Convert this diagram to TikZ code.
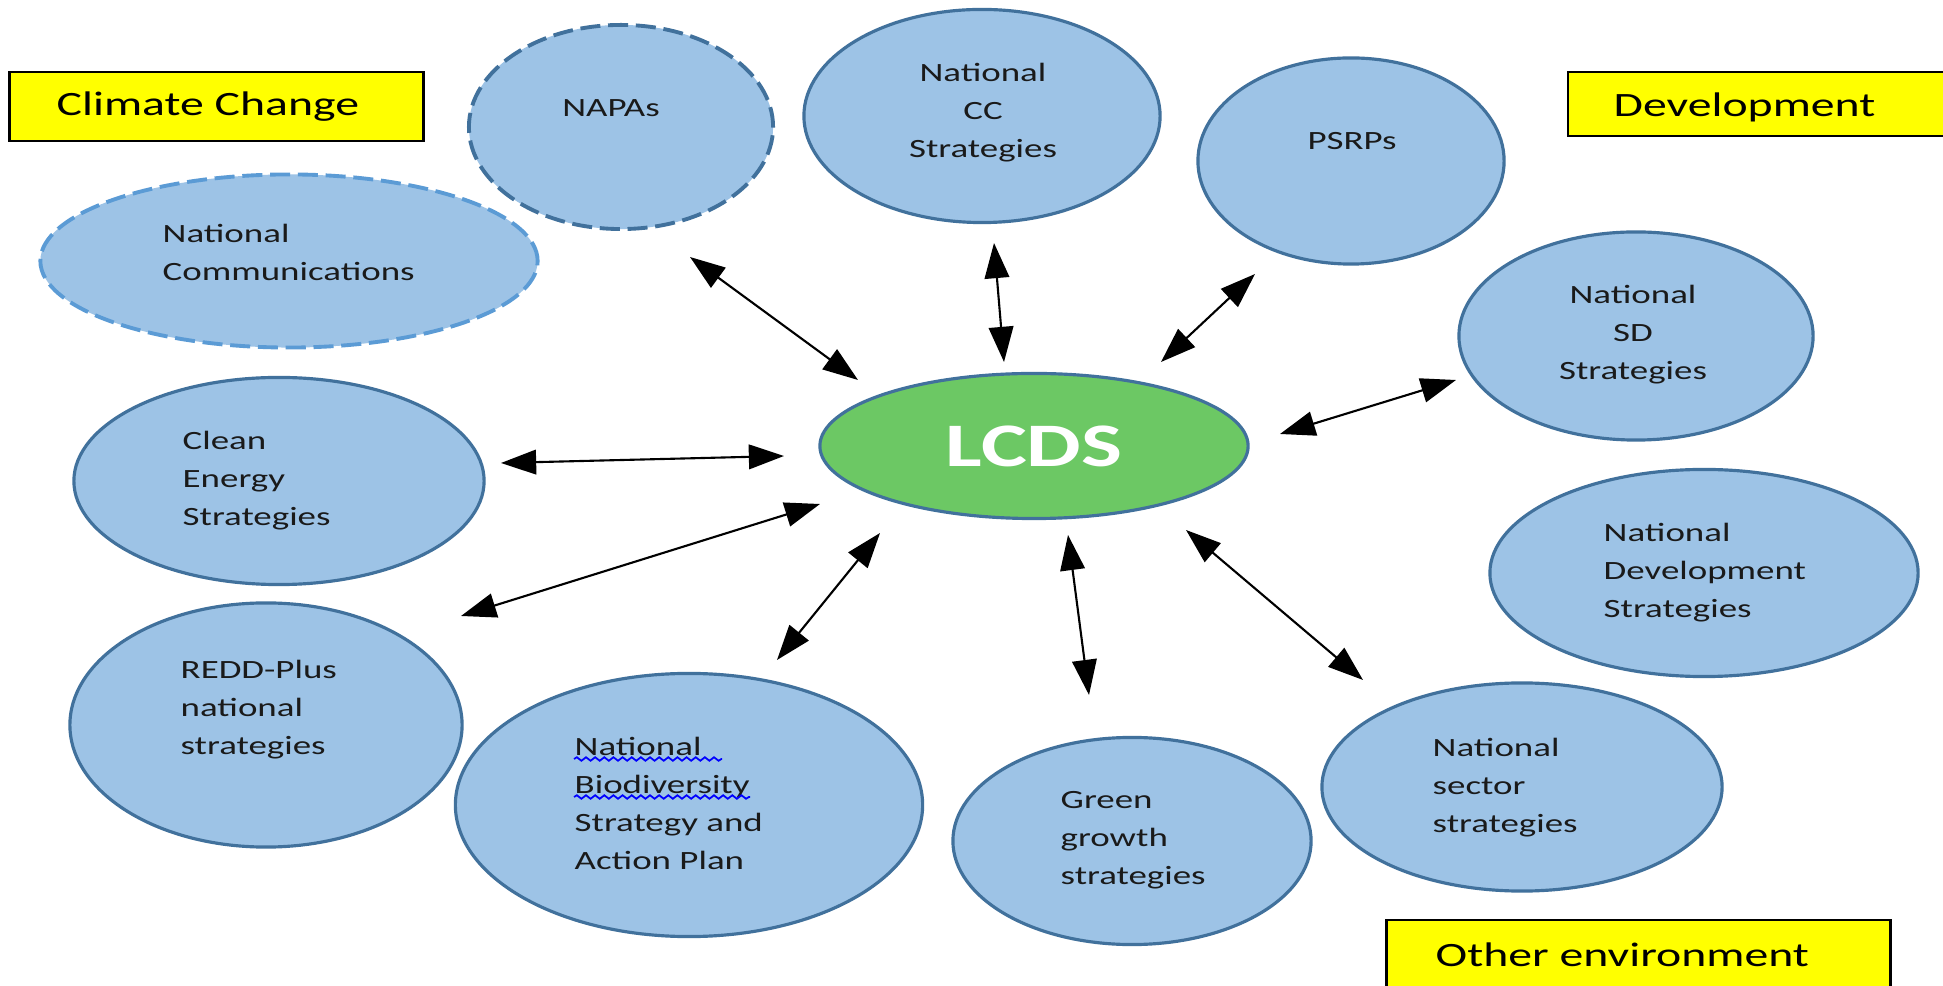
\documentclass[tikz,border=0pt]{standalone}
\usepackage{fontspec}
\setmainfont{Carlito}[FakeStretch=1.4]
\usetikzlibrary{shapes.geometric,arrows.meta,decorations.pathmorphing}
\definecolor{bfill}{HTML}{9DC3E6}
\definecolor{bline}{HTML}{41719C}
\definecolor{bdash}{HTML}{5B9BD5}
\definecolor{gfill}{HTML}{6CC864}
\definecolor{ybox}{HTML}{FFFF00}
\definecolor{txt}{HTML}{1A1A1A}
\tikzset{
  blob/.style={ellipse, draw=bline, fill=bfill, line width=0.9pt, inner sep=0pt},
  dblob/.style={blob, line width=1.1pt, dash pattern=on 5.7pt off 2.2pt},
  lcdsblob/.style={ellipse, draw=bline, fill=gfill, line width=0.9pt, inner sep=0pt,
     text=white, font={\bfseries\fontsize{17.6}{20}\selectfont}},
  lab/.style={text=txt, inner sep=0pt, font={\fontsize{7.5}{10.8}\selectfont}},
  ltxt/.style={lab, align=left, anchor=west},
  ctxt/.style={lab, align=center},
  tbox/.style={draw=black, fill=ybox, line width=0.8pt, inner sep=0pt},
  ttxt/.style={text=black, inner sep=0pt, anchor=west, font={\fontsize{9.7}{12}\selectfont}},
  conn/.style={line width=0.6pt, {Triangle[length=10pt,width=7pt]}-{Triangle[length=10pt,width=7pt]}},
  spell/.style={draw=blue, line width=0.5pt, decorate, decoration={snake, amplitude=0.5pt, segment length=2.6pt}}
}
\begin{document}
\begin{tikzpicture}[x=0.01cm, y=-0.01cm]
\useasboundingbox (0,0) rectangle (1943,986);
\clip (0,0) rectangle (1943,986);
\fill[white] (0,0) rectangle (1943,986);

% category boxes
\node[tbox, minimum width=4.13cm, minimum height=0.69cm] (bcc) at (216.5,106.5) {};
\node[ttxt] (tcc) at (56,107) {Climate Change};
\node[tbox, minimum width=4.0cm, minimum height=0.64cm] (bdev) at (1768,104) {};
\node[ttxt] (tdev) at (1613,107) {Development};
\node[tbox, minimum width=5.03cm, minimum height=0.9cm] (boe) at (1638.5,965) {};
\node[ttxt] (toe) at (1435,955) {Other environment};

% ellipses
\node[dblob, minimum width=3.04cm, minimum height=2.04cm] (napas) at (621,127) {};
\node[blob, minimum width=3.56cm, minimum height=2.13cm] (ncc) at (982,116) {};
\node[blob, minimum width=3.06cm, minimum height=2.06cm] (psrps) at (1351,161) {};
\node[dblob, draw=bdash, minimum width=4.97cm, minimum height=1.73cm] (ncom) at (289,261) {};
\node[blob, minimum width=3.54cm, minimum height=2.08cm] (nsd) at (1636,336) {};
\node[lcdsblob, minimum width=4.28cm, minimum height=1.45cm] (lcds) at (1034,446) {LCDS};
\node[blob, minimum width=4.10cm, minimum height=2.07cm] (clean) at (279,481) {};
\node[blob, minimum width=4.28cm, minimum height=2.07cm] (ndev) at (1704,573) {};
\node[blob, minimum width=3.92cm, minimum height=2.44cm] (redd) at (266,725) {};
\node[blob, minimum width=4.67cm, minimum height=2.63cm] (nbsap) at (689,805) {};
\node[blob, minimum width=3.58cm, minimum height=2.07cm] (green) at (1132,841) {};
\node[blob, minimum width=4.00cm, minimum height=2.08cm] (sector) at (1522,787) {};

% texts
\node[ctxt] (tnapas) at (611,108) {NAPAs};
\node[ctxt] (tncc) at (983,113) {National\\CC\\Strategies};
\node[ctxt] (tpsrps) at (1352,141) {PSRPs};
\node[ltxt] (tncom) at (162,252) {National\\Communications};
\node[ctxt] (tnsd) at (1633,335) {National\\SD\\Strategies};
\node[ltxt] (tclean) at (182,481) {Clean\\Energy\\Strategies};
\node[ltxt] (tndev) at (1603,573) {National\\Development\\Strategies};
\node[ltxt] (tredd) at (180,710) {REDD-Plus\\national\\strategies};
\node[ltxt] (tnbsap) at (574,803) {National\\Biodiversity\\Strategy and\\Action Plan};
\node[ltxt] (tgreen) at (1060,840) {Green\\growth\\strategies};
\node[ltxt] (tsector) at (1432,788) {National\\sector\\strategies};

% spell-check underlines
\draw[spell] (574,759) -- (722,759);
\draw[spell] (574,797) -- (750,797);

% connector end points
\coordinate (a1) at (690,257);  \coordinate (b1) at (858,380);
\coordinate (a2) at (994,243);  \coordinate (b2) at (1004,362);
\coordinate (a3) at (1255,274); \coordinate (b3) at (1161,362);
\coordinate (a4) at (1456,380); \coordinate (b4) at (1280,434);
\coordinate (a5) at (501,463);  \coordinate (b5) at (784,456);
\coordinate (a6) at (461,616);  \coordinate (b6) at (820,504);
\coordinate (a7) at (777,660);  \coordinate (b7) at (880,533);
\coordinate (a8) at (1089,695); \coordinate (b8) at (1068,535);
\coordinate (a9) at (1363,680); \coordinate (b9) at (1186,530);

\foreach \i in {1,...,9} { \draw[conn] (a\i) -- (b\i); }
\end{tikzpicture}
\end{document}
